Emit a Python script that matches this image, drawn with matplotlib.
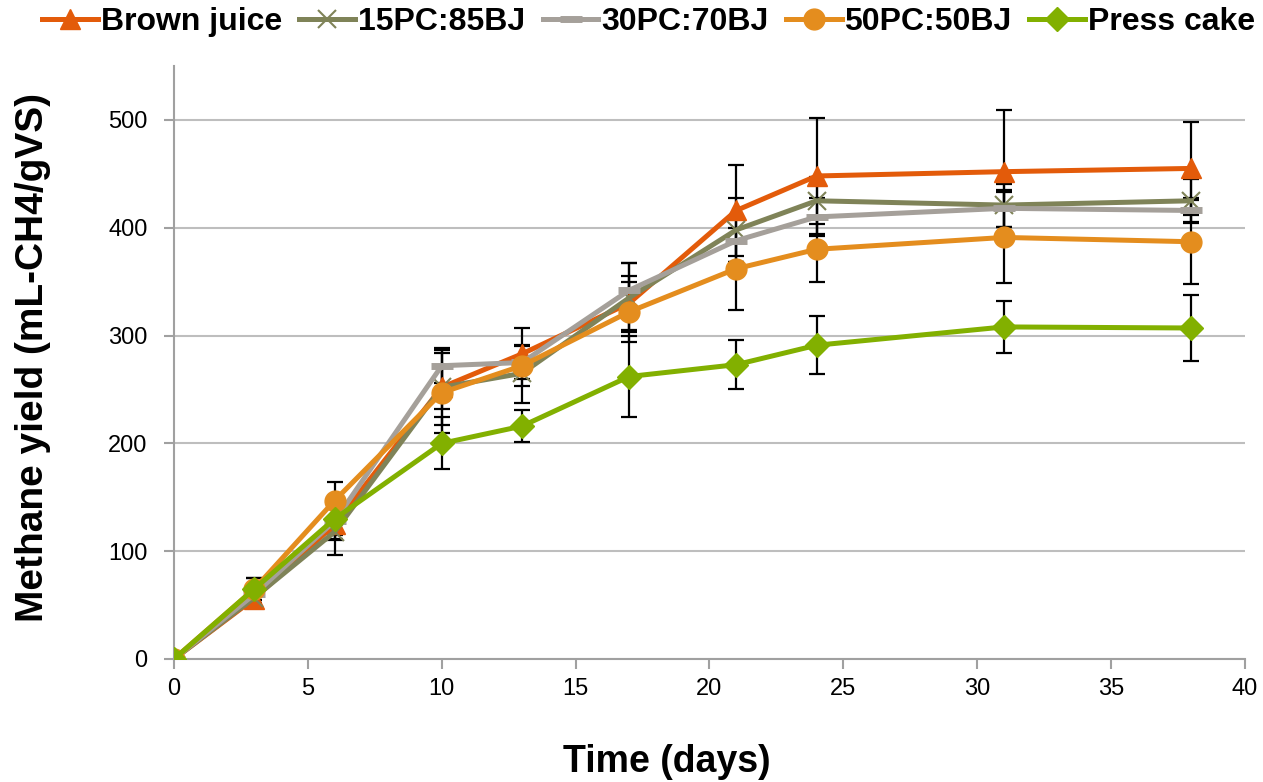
import matplotlib
matplotlib.use("Agg")
import matplotlib.pyplot as plt

plt.rcParams['font.family'] = ['Liberation Sans', 'DejaVu Sans']

days = [0, 3, 6, 10, 13, 17, 21, 24, 31, 38]

brown_juice = [0, 56, 125, 252, 283, 330, 416, 448, 452, 455]
pc15_bj85 = [0, 57, 118, 252, 265, 335, 398, 425, 421, 425]
pc30_bj70 = [0, 60, 128, 272, 275, 342, 388, 410, 418, 416]
pc50_bj50 = [0, 65, 147, 247, 272, 322, 362, 380, 391, 387]
press_cake = [0, 65, 130, 200, 216, 262, 273, 291, 308, 307]

brown_juice_err = [0, 8, 14, 20, 8, 25, 42, 54, 57, 43]
pc15_bj85_err = [0, 9, 22, 35, 12, 32, 30, 22, 20, 20]
pc30_bj70_err = [0, 8, 18, 16, 15, 25, 20, 18, 17, 12]
pc50_bj50_err = [0, 10, 17, 37, 35, 28, 38, 30, 42, 39]
press_cake_err = [0, 10, 15, 24, 15, 38, 23, 27, 24, 31]

series = [
    ("Brown juice", brown_juice, brown_juice_err, "#E35B0A", dict(marker="^", ms=14)),
    ("15PC:85BJ", pc15_bj85, pc15_bj85_err, "#7F8358", dict(marker="x", ms=13, mew=1.5)),
    ("30PC:70BJ", pc30_bj70, pc30_bj70_err, "#A5A09A", dict(marker="_", ms=16, mew=5)),
    ("50PC:50BJ", pc50_bj50, pc50_bj50_err, "#E48D1E", dict(marker="o", ms=15)),
    ("Press cake", press_cake, press_cake_err, "#82B000", dict(marker="D", ms=12)),
]

fig = plt.figure(figsize=(12.63, 7.82), dpi=100)
ax = fig.add_axes([0.1378, 0.1573, 0.8479, 0.7583])

for i, (name, vals, err, color, mk) in enumerate(series):
    ax.errorbar(days, vals, yerr=err, fmt="none", ecolor="black",
                elinewidth=1.6, capsize=6, capthick=1.6, zorder=3)
    ax.plot(days, vals, color=color, lw=3.6, label=name, zorder=4 + i,
            mfc=color, mec=color, **mk)

ax.set_xlim(0, 40)
ax.set_ylim(0, 550)
ax.set_xticks(range(0, 41, 5))
ax.set_yticks(range(0, 501, 100))
ax.yaxis.grid(True, color="#BEBEBE", lw=1.5)
ax.set_axisbelow(True)
for s in ["top", "right"]:
    ax.spines[s].set_visible(False)
for s in ["left", "bottom"]:
    ax.spines[s].set_color("#A0A0A0")
    ax.spines[s].set_linewidth(1.5)
ax.tick_params(axis="both", labelsize=17, color="#A0A0A0", width=1.5, length=7, pad=7)
ax.tick_params(axis="y", pad=12)

ax.set_xlabel("Time (days)", fontsize=27, fontweight="bold")
ax.set_ylabel("Methane yield (mL-CH4/gVS)", fontsize=28, fontweight="bold")
ax.xaxis.set_label_coords(0.46, -0.174, transform=ax.transAxes)
ax.yaxis.set_label_coords(-0.1317, 0.508, transform=ax.transAxes)
ax.xaxis.label.set_va("center")
ax.yaxis.label.set_va("center")

leg = ax.legend(loc="center", bbox_to_anchor=(0.443, 1.074), ncol=5, frameon=False,
                prop={"size": 23, "weight": "bold"}, handlelength=1.75,
                handletextpad=0.08, columnspacing=0.55, borderaxespad=0)

fig.savefig("out.png", dpi=100)
